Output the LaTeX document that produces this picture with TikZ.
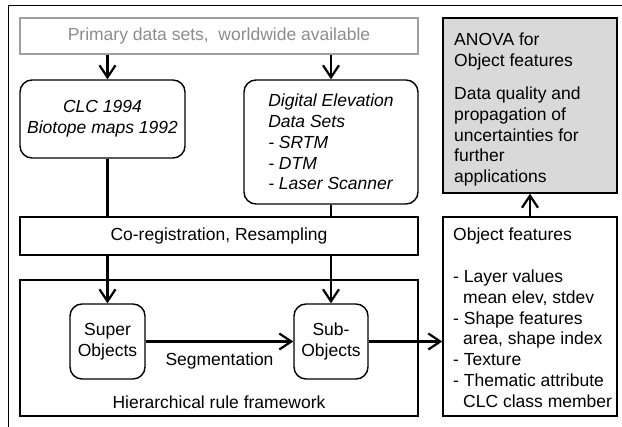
\documentclass[tikz,border=0pt]{standalone}
\usepackage{fontspec}
\setmainfont{Liberation Sans}
\usetikzlibrary{arrows.meta}
\definecolor{pline}{HTML}{A0A0A0}
\definecolor{ptext}{HTML}{8C8C8C}
\definecolor{anovafill}{HTML}{D9D9D9}
\begin{document}
\begin{tikzpicture}[x=1pt,y=-1pt,
  every node/.style={font=\fontsize{17.5}{20.8}\selectfont, inner sep=0pt},
  itfont/.style={font=\fontsize{17.5}{20.8}\selectfont\itshape},
  box/.style={draw, line width=1.4pt},
  rbox/.style={box, rounded corners=12pt},
  conn/.style={line width=2.2pt},
  arr/.style={conn, -{Straight Barb[length=12pt,width=16pt,line width=2.2pt]}},
]
\useasboundingbox (0,0) rectangle (622,427);
\draw[line width=1pt] (8,427) -- (8,6) -- (622,6);

% boxes
\node[box, draw=pline, text=ptext, minimum width=398, minimum height=36] (primary) at (219,36) {Primary data sets,\ \ worldwide available};
\node[rbox, itfont, align=center, minimum width=165, minimum height=78] (clc) at (102.5,119) {CLC 1994\\Biotope maps 1992};
\node[rbox, itfont, align=left, minimum width=174, minimum height=124] (dem) at (331,142) {Digital Elevation\\Data Sets\\- SRTM\\- DTM\\- Laser Scanner};
\node[box, fill=anovafill, minimum width=174, minimum height=175] (anova) at (530,105.5) {};
\node[anchor=north west, align=left] (anovatext) at (454,33) {ANOVA for\\Object features\\[12pt]Data quality and\\propagation of\\uncertainties for\\further\\applications};
\node[box, minimum width=398, minimum height=38] (coreg) at (219,236) {Co-registration, Resampling};
\node[box, minimum width=398, minimum height=136] (hier) at (219,348) {};
\node (hiertext) at (219,402) {Hierarchical rule framework};
\node[rbox, align=center, minimum width=75, minimum height=75] (super) at (107.5,341.5) {Super\\Objects};
\node[rbox, align=center, minimum width=74, minimum height=75] (sub) at (331,341.5) {Sub-\\Objects};
\node[box, minimum width=174, minimum height=199] (objfeat) at (530,316.5) {};
\node[anchor=north west, align=left] (objtext) at (453,228) {Object features\\[20.8pt]- Layer values\\\hspace*{10pt}mean elev, stdev\\- Shape features\\\hspace*{10pt}area, shape index\\- Texture\\- Thematic attribute\\\hspace*{10pt}CLC class member};

% connectors
\draw[arr] (primary.south -| super.north) -- (clc.north -| super.north);
\draw[arr] (primary.south -| dem.north) -- (dem.north);
\draw[conn] (clc.south -| super.north) -- (coreg.north -| super.north);
\draw[conn] (dem.south) -- (coreg.north -| dem.south);
\draw[arr] (coreg.south -| super.north) -- (super.north);
\draw[arr] (coreg.south -| sub.north) -- (sub.north);
\draw[arr] (super.east) -- node[below=10pt] (seglabel) {Segmentation} (sub.west);
\draw[arr] (sub.east) -- (sub.east -| objfeat.west);
\draw[arr] (objfeat.north) -- (anova.south);
\end{tikzpicture}
\end{document}
